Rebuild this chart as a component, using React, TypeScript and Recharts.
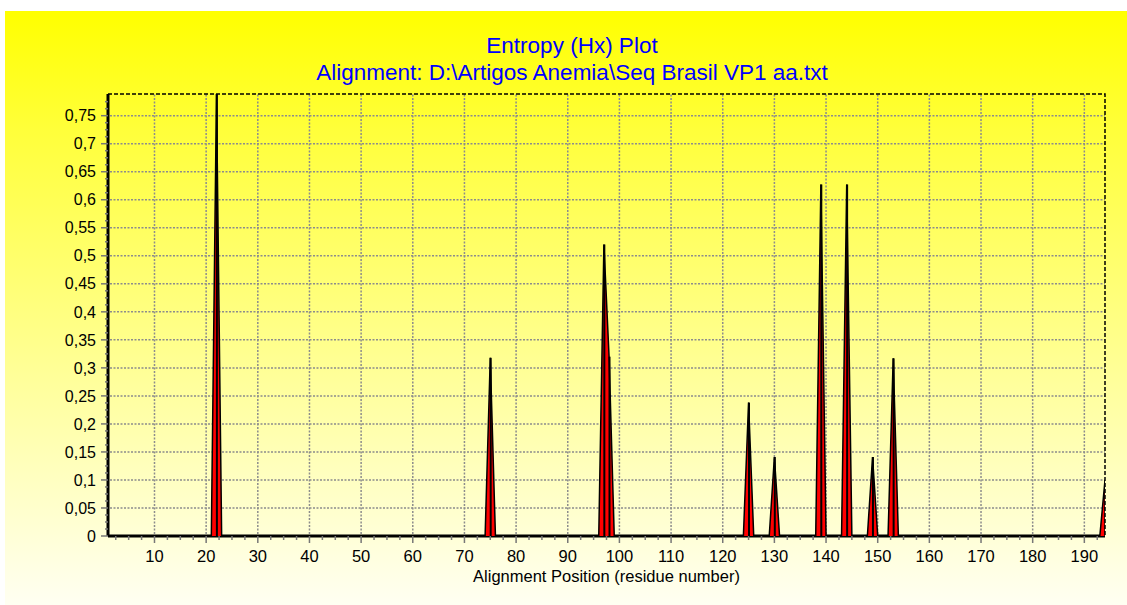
import { ComposedChart, Area, Bar, XAxis, YAxis } from "recharts";

// non-zero entropy positions; every other residue is 0
const peakPositions = [22, 75, 97, 98, 125, 130, 139, 144, 149, 153, 194];
const peakValues = [0.7887, 0.318, 0.52, 0.32, 0.238, 0.141, 0.627, 0.627, 0.141, 0.317, 0.1];

const firstPosition = 1;
const lastPosition = 194;
const yMax = 0.7887;

const xMajorTicks = [10, 20, 30, 40, 50, 60, 70, 80, 90, 100, 110, 120, 130, 140, 150, 160, 170, 180, 190];
const yTicks = [0, 0.05, 0.1, 0.15, 0.2, 0.25, 0.3, 0.35, 0.4, 0.45, 0.5, 0.55, 0.6, 0.65, 0.7, 0.75];

// minor + major tick positions along each axis
const xAllTicks: number[] = [];
for (let v = 2.5; v < lastPosition; v += 2.5) xAllTicks.push(v);
const yAllTicks: number[] = [];
for (let v = 0; v < 0.78; v += 0.0125) yAllTicks.push(Number(v.toFixed(4)));

const data: { pos: number; hx: number }[] = [];
for (let p = firstPosition; p <= lastPosition; p++) {
  const i = peakPositions.indexOf(p);
  data.push({ pos: p, hx: i >= 0 ? peakValues[i] : 0 });
}

const W = 1127;
const H = 605;
const margin = { top: 94, right: 22, bottom: 23, left: 8 };
const yAxisW = 100;
const xAxisH = 46;
const plotW = W - margin.left - margin.right - yAxisW;
const plotH = H - margin.top - margin.bottom - xAxisH;
// series layer has hidden axes, so the axis room goes into its margin
const seriesMargin = { top: margin.top, right: margin.right, bottom: margin.bottom + xAxisH, left: margin.left + yAxisW };

const fmt = (v: number) => (v === 0 ? "0" : String(Number(v.toFixed(2))).replace(".", ","));
const font = '"Liberation Sans", Arial, sans-serif';
const isMajorX = (v: number) => xMajorTicks.includes(v);
const isMajorY = (v: number) => yTicks.some((t) => Math.abs(t - v) < 1e-6);
const gridStyle = { stroke: "#8c8c8c", strokeWidth: 1.5, strokeDasharray: "2 1.5" };

const XTick = (p: any) => {
  const v = p.payload.value;
  const major = isMajorX(v);
  return (
    <g>
      {major && <line x1={p.x} x2={p.x} y1={p.y - 2} y2={p.y - plotH} {...gridStyle} />}
      <line x1={p.x} x2={p.x} y1={p.y} y2={p.y + (major ? 7 : 4)} stroke="#777" strokeWidth={1.5} />
      {major && (
        <text x={p.x} y={p.y + 14} dy="0.71em" textAnchor="middle" fill="#000" fontSize={16.5} fontFamily={font}>
          {v}
        </text>
      )}
    </g>
  );
};

const YTick = (p: any) => {
  const v = p.payload.value;
  const major = isMajorY(v);
  return (
    <g>
      {major && v > 0 && <line x1={p.x + 2} x2={p.x + plotW} y1={p.y} y2={p.y} {...gridStyle} />}
      <line x1={p.x - (major ? 7 : 3)} x2={p.x} y1={p.y} y2={p.y} stroke="#777" strokeWidth={1.5} />
      {major && (
        <text x={p.x - 12} y={p.y} dy="0.355em" textAnchor="end" fill="#000" fontSize={16} fontFamily={font}>
          {fmt(v)}
        </text>
      )}
    </g>
  );
};

export default function App() {
  return (
    <div style={{ position: "fixed", left: 0, top: 0, width: W, height: H, background: "#fff", fontFamily: font }}>
      <div
        style={{
          position: "absolute",
          left: 5,
          top: 11,
          width: W - 5,
          height: H - 11,
          background: "linear-gradient(to bottom, #ffff00 0%, #ffff3a 20%, #ffff8a 55%, #fffff2 100%)",
        }}
      />
      <div style={{ position: "absolute", left: 0, width: 1144, top: 32, textAlign: "center", color: "#0000ff", fontSize: 22.5, lineHeight: "27px" }}>
        Entropy (Hx) Plot
        <br />
        Alignment: D:\Artigos Anemia\Seq Brasil VP1 aa.txt
      </div>
      {/* axes + grid layer */}
      <div style={{ position: "absolute", left: 0, top: 0 }}>
        <ComposedChart width={W} height={H} data={data} margin={margin}>
          <XAxis
            dataKey="pos"
            type="number"
            domain={[firstPosition, lastPosition]}
            ticks={xAllTicks}
            interval={0}
            height={xAxisH}
            tickSize={0}
            tickMargin={0}
            tickLine={false}
            axisLine={{ stroke: "#000", strokeWidth: 3 }}
            tick={<XTick />}
            label={{ value: "Alignment Position (residue number)", position: "insideBottom", offset: 0, fill: "#000", fontSize: 16.5, fontFamily: font }}
            allowDataOverflow
          />
          <YAxis
            type="number"
            domain={[0, yMax]}
            ticks={yAllTicks}
            interval={0}
            width={yAxisW}
            tickSize={0}
            tickMargin={0}
            tickLine={false}
            axisLine={{ stroke: "#000", strokeWidth: 3 }}
            tick={<YTick />}
            allowDataOverflow
          />
        </ComposedChart>
      </div>
      {/* series layer, drawn over the grid */}
      <div style={{ position: "absolute", left: 0, top: 0 }}>
        <ComposedChart width={W} height={H} data={data} margin={seriesMargin}>
          <XAxis dataKey="pos" type="number" domain={[firstPosition, lastPosition]} hide allowDataOverflow />
          <YAxis type="number" domain={[0, yMax]} hide allowDataOverflow />
          <Area
            type="linear"
            dataKey="hx"
            fill="#ff0000"
            fillOpacity={1}
            stroke="#000"
            strokeWidth={1.5}
            dot={false}
            activeDot={false}
            isAnimationActive={false}
          />
          <Bar dataKey="hx" barSize={2} fill="#000" isAnimationActive={false} />
        </ComposedChart>
      </div>
      <svg style={{ position: "absolute", left: 0, top: 0 }} width={W} height={H}>
        <polyline points="108,94 1105,94 1105,536" fill="none" stroke="#000" strokeWidth={1.5} strokeDasharray="4 2" />
      </svg>
    </div>
  );
}
